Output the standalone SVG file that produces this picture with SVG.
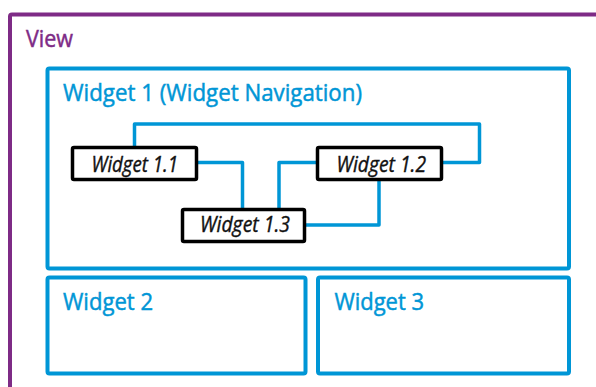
<svg xmlns="http://www.w3.org/2000/svg" width="596" height="387" viewBox="0 0 596 387">
  <style>
    .view { fill: none; stroke: #7E2B86; stroke-width: 4; }
    .widget { fill: #ffffff; stroke: #0096D6; stroke-width: 4; }
    .sub { fill: #ffffff; stroke: #000000; stroke-width: 3.5; }
    .title { font-family: "Open Sans", "Noto Sans", sans-serif; font-size: 24.5px; fill: #0096D6; stroke: #0096D6; stroke-width: 0.5; }
    .viewtitle { font-family: "Open Sans", "Noto Sans", sans-serif; font-size: 24.5px; fill: #7E2B86; stroke: #7E2B86; stroke-width: 0.5; }
    .label { font-family: "Open Sans", "Noto Sans", sans-serif; font-size: 21.5px; font-style: italic; fill: #111111; stroke: #111111; stroke-width: 0.4; }
    .link { fill: none; stroke: #0096D6; stroke-width: 3.5; stroke-linejoin: round; }
  </style>
  <rect width="596" height="387" fill="#ffffff"/>

  <g id="view">
    <rect class="view" x="10" y="14.5" width="700" height="500" rx="2"/>
    <text class="viewtitle" x="26" y="46.5" textLength="47" lengthAdjust="spacingAndGlyphs">View</text>
  </g>

  <g id="widget-1">
    <rect class="widget" x="47.5" y="68.5" width="521.5" height="200" rx="2"/>
    <text class="title" x="63" y="100.5" textLength="299" lengthAdjust="spacingAndGlyphs">Widget 1 (Widget Navigation)</text>
  </g>

  <g id="widget-2">
    <rect class="widget" x="47.5" y="277.5" width="258" height="96" rx="2"/>
    <text class="title" x="63" y="310" textLength="90" lengthAdjust="spacingAndGlyphs">Widget 2</text>
  </g>

  <g id="widget-3">
    <rect class="widget" x="318" y="277.5" width="251" height="96" rx="2"/>
    <text class="title" x="334.5" y="310" textLength="89.5" lengthAdjust="spacingAndGlyphs">Widget 3</text>
  </g>

  <g id="connectors">
    <path class="link" d="M134.5,147 V124 H479.5 V162.5 H443"/>
    <path class="link" d="M197,162.5 H242.5 V209"/>
    <path class="link" d="M317,162.5 H279 V209"/>
    <path class="link" d="M305,225 H379 V180"/>
  </g>

  <g id="widget-1-1">
    <rect class="sub" x="72.5" y="147.5" width="124" height="32" rx="1.5"/>
    <text class="label" x="91.5" y="171.5" textLength="86.5" lengthAdjust="spacingAndGlyphs">Widget 1.1</text>
  </g>

  <g id="widget-1-2">
    <rect class="sub" x="317.5" y="147.5" width="124" height="32" rx="1.5"/>
    <text class="label" x="336.5" y="171.5" textLength="89.5" lengthAdjust="spacingAndGlyphs">Widget 1.2</text>
  </g>

  <g id="widget-1-3">
    <rect class="sub" x="182.5" y="209.5" width="122" height="32" rx="1.5"/>
    <text class="label" x="200" y="231.5" textLength="90" lengthAdjust="spacingAndGlyphs">Widget 1.3</text>
  </g>
</svg>
